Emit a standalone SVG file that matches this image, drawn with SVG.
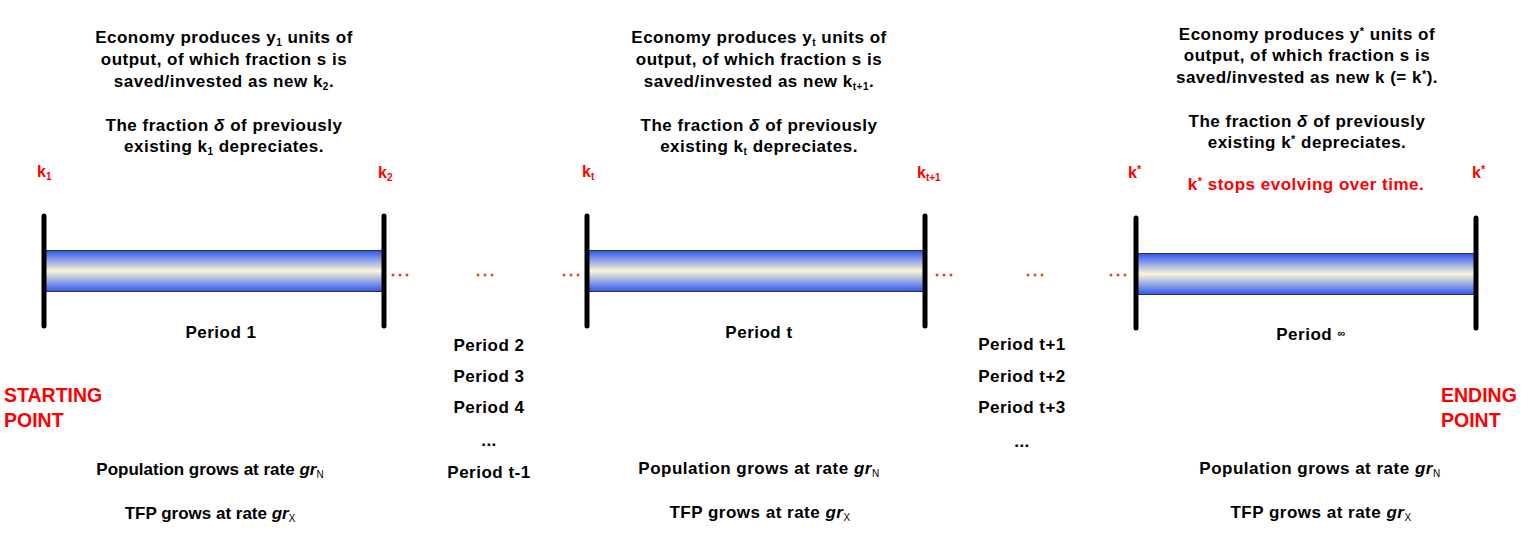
<svg xmlns="http://www.w3.org/2000/svg" width="1532" height="548" viewBox="0 0 1532 548">
<style>
  text { font-family: "Liberation Sans", Arial, sans-serif; font-weight: bold; }
  .body { font-size: 17px; fill: #000; letter-spacing: 0.5px; text-anchor: middle; }
  .tight { letter-spacing: 0px; }
  .per { font-size: 17px; fill: #000; letter-spacing: 0.5px; text-anchor: middle; }
  .k { font-size: 16px; fill: #ff0000; }
  .red { font-size: 17px; fill: #ff0000; letter-spacing: 0.5px; text-anchor: middle; }
  .big { font-size: 19.5px; fill: #ff0000; }
  .post { stroke: #000; stroke-width: 5; stroke-linecap: round; }
  .tube { fill: url(#tubeGrad); stroke: #333; stroke-width: 1; }
  .dot { fill: #ff3b1f; }
  .it { font-style: italic; }
</style>
<defs>
  <linearGradient id="tubeGrad" x1="0" y1="0" x2="0" y2="1">
    <stop offset="0" stop-color="#2d55f2"/>
    <stop offset="0.5" stop-color="#fbf6d8"/>
    <stop offset="1" stop-color="#2d58f0"/>
  </linearGradient>
</defs>
<rect width="1532" height="548" fill="#fff"/>

<!-- Period 1 -->
<g id="period1">
  <rect class="tube" x="44" y="250.5" width="340" height="41"/>
  <line class="post" x1="44" y1="216" x2="44" y2="326"/>
  <line class="post" x1="384" y1="216" x2="384" y2="326"/>
  <text class="k" x="37" y="177">k<tspan font-size="10" dy="3">1</tspan></text>
  <text class="k" x="378" y="178">k<tspan font-size="10" dy="3">2</tspan></text>
  <text class="per" x="221" y="338">Period 1</text>
</g>
<g id="text1">
  <text class="body" x="224" y="43">Economy produces y<tspan font-size="10" dy="3">1</tspan><tspan dy="-3"> units of</tspan></text>
  <text class="body" x="224" y="65">output, of which fraction s is</text>
  <text class="body" x="224" y="87">saved/invested as new k<tspan font-size="10" dy="3">2</tspan><tspan dy="-3">.</tspan></text>
  <text class="body" x="224" y="131">The fraction <tspan class="it">δ</tspan> of previously</text>
  <text class="body" x="224" y="152">existing k<tspan font-size="10" dy="3">1</tspan><tspan dy="-3"> depreciates.</tspan></text>
  <text class="body tight" x="210" y="475">Population grows at rate <tspan class="it">gr</tspan><tspan font-size="10" font-weight="normal" dy="3">N</tspan></text>
  <text class="body tight" x="210" y="519">TFP grows at rate <tspan class="it">gr</tspan><tspan font-size="10" font-weight="normal" dy="3">X</tspan></text>
</g>
<g id="start">
  <text class="big" x="4" y="402">STARTING</text>
  <text class="big" x="4" y="427">POINT</text>
</g>

<!-- Middle periods column -->
<g id="periods2">
  <text class="per" x="489" y="351">Period 2</text>
  <text class="per" x="489" y="382">Period 3</text>
  <text class="per" x="489" y="413">Period 4</text>
  <text class="per" x="489" y="446">...</text>
  <text class="per" x="489" y="478">Period t-1</text>
</g>

<!-- Period t -->
<g id="periodt">
  <rect class="tube" x="587" y="250.5" width="338" height="41"/>
  <line class="post" x1="587" y1="216" x2="587" y2="326"/>
  <line class="post" x1="925" y1="216" x2="925" y2="326"/>
  <text class="k" x="582" y="177">k<tspan font-size="10" dy="3">t</tspan></text>
  <text class="k" x="917" y="178">k<tspan font-size="10" dy="3">t+1</tspan></text>
  <text class="per" x="759" y="338">Period t</text>
</g>
<g id="text2">
  <text class="body" x="759" y="43">Economy produces y<tspan font-size="10" dy="3">t</tspan><tspan dy="-3"> units of</tspan></text>
  <text class="body" x="759" y="65">output, of which fraction s is</text>
  <text class="body" x="759" y="87">saved/invested as new k<tspan font-size="10" dy="3">t+1</tspan><tspan dy="-3">.</tspan></text>
  <text class="body" x="759" y="131">The fraction <tspan class="it">δ</tspan> of previously</text>
  <text class="body" x="759" y="152">existing k<tspan font-size="10" dy="3">t</tspan><tspan dy="-3"> depreciates.</tspan></text>
  <text class="body" x="759" y="474">Population grows at rate <tspan class="it">gr</tspan><tspan font-size="10" font-weight="normal" dy="3">N</tspan></text>
  <text class="body" x="760" y="518">TFP grows at rate <tspan class="it">gr</tspan><tspan font-size="10" font-weight="normal" dy="3">X</tspan></text>
</g>

<!-- Later periods column -->
<g id="periods3">
  <text class="per" x="1022" y="350">Period t+1</text>
  <text class="per" x="1022" y="382">Period t+2</text>
  <text class="per" x="1022" y="413">Period t+3</text>
  <text class="per" x="1022" y="447">...</text>
</g>

<!-- Period infinity -->
<g id="periodinf">
  <rect class="tube" x="1136" y="253.5" width="340" height="41"/>
  <line class="post" x1="1136" y1="218" x2="1136" y2="328"/>
  <line class="post" x1="1476" y1="218" x2="1476" y2="328"/>
  <text class="k" x="1128" y="178">k<tspan font-size="11" dy="-5">*</tspan></text>
  <text class="k" x="1472" y="178">k<tspan font-size="11" dy="-5">*</tspan></text>
  <text class="per" x="1311" y="340">Period <tspan font-size="11" dy="-3">∞</tspan></text>
</g>
<g id="text3">
  <text class="body" x="1307" y="40">Economy produces y<tspan font-size="11" dy="-5">*</tspan><tspan dy="5"> units of</tspan></text>
  <text class="body" x="1307" y="61">output, of which fraction s is</text>
  <text class="body" x="1307" y="83">saved/invested as new k (= k<tspan font-size="11" dy="-5">*</tspan><tspan dy="5">).</tspan></text>
  <text class="body" x="1307" y="127">The fraction <tspan class="it">δ</tspan> of previously</text>
  <text class="body" x="1307" y="148">existing k<tspan font-size="11" dy="-5">*</tspan><tspan dy="5"> depreciates.</tspan></text>
  <text class="red" x="1306" y="190">k<tspan font-size="11" dy="-5">*</tspan><tspan dy="5"> stops evolving over time.</tspan></text>
  <text class="body" x="1320" y="474">Population grows at rate <tspan class="it">gr</tspan><tspan font-size="10" font-weight="normal" dy="3">N</tspan></text>
  <text class="body" x="1321" y="518">TFP grows at rate <tspan class="it">gr</tspan><tspan font-size="10" font-weight="normal" dy="3">X</tspan></text>
</g>
<g id="end">
  <text class="big" x="1441" y="402">ENDING</text>
  <text class="big" x="1441" y="427">POINT</text>
</g>

<!-- Continuation dots -->
<g id="connectors">
  <circle class="dot" cx="393" cy="275" r="1.5"/><circle class="dot" cx="400" cy="275" r="1.5"/><circle class="dot" cx="407" cy="275" r="1.5"/>
  <circle class="dot" cx="478" cy="275" r="1.5"/><circle class="dot" cx="485" cy="275" r="1.5"/><circle class="dot" cx="492" cy="275" r="1.5"/>
  <circle class="dot" cx="564" cy="275" r="1.5"/><circle class="dot" cx="571" cy="275" r="1.5"/><circle class="dot" cx="578" cy="275" r="1.5"/>
  <circle class="dot" cx="937" cy="275" r="1.5"/><circle class="dot" cx="944" cy="275" r="1.5"/><circle class="dot" cx="951" cy="275" r="1.5"/>
  <circle class="dot" cx="1028" cy="275" r="1.5"/><circle class="dot" cx="1035" cy="275" r="1.5"/><circle class="dot" cx="1042" cy="275" r="1.5"/>
  <circle class="dot" cx="1111" cy="275" r="1.5"/><circle class="dot" cx="1118" cy="275" r="1.5"/><circle class="dot" cx="1125" cy="275" r="1.5"/>
</g>
</svg>
